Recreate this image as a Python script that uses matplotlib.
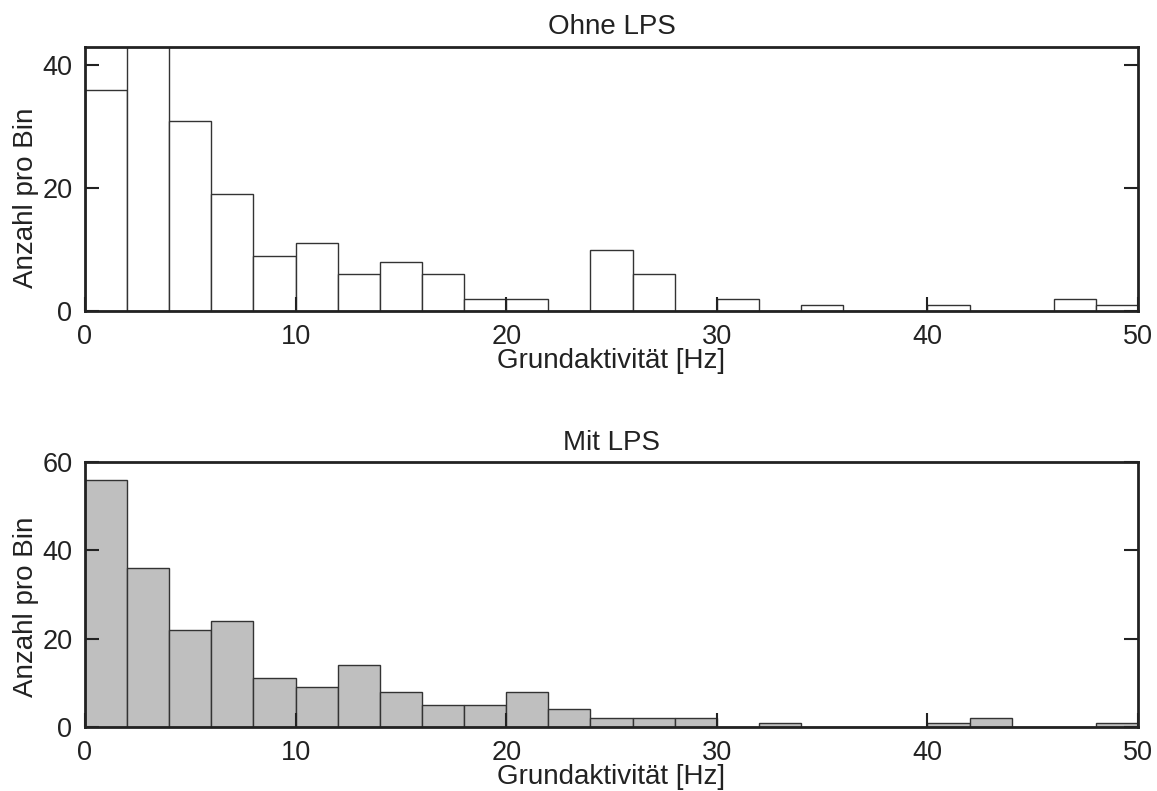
import numpy as np
import matplotlib
matplotlib.use('Agg')
import matplotlib.pyplot as plt

plt.rcParams['font.family'] = ['Liberation Sans', 'DejaVu Sans']

# Bin-Kanten (Hz) und Anzahl pro Bin
bin_edges = np.arange(0, 52, 2)
ohne_lps = [36, 47, 31, 19, 9, 11, 6, 8, 6, 2, 2, 0, 10, 6, 0, 2, 0, 1, 0, 0, 1, 0, 0, 2, 1]
mit_lps = [56, 36, 22, 24, 11, 9, 14, 8, 5, 5, 8, 4, 2, 2, 2, 0, 1, 0, 0, 0, 1, 2, 0, 0, 1]

titles = ['Ohne LPS', 'Mit LPS']
ylims = [43, 60]
yticks = [[0, 20, 40], [0, 20, 40, 60]]
colors = ['white', '#bfbfbf']
xticks = [0, 10, 20, 30, 40, 50]

fig = plt.figure(figsize=(11.57, 7.91), dpi=100)
ax1 = fig.add_axes([85 / 1157, 1 - 311 / 791, 1053 / 1157, 264 / 791])
ax2 = fig.add_axes([85 / 1157, 1 - 727 / 791, 1053 / 1157, 265 / 791])
ylab_y = [0.43, 0.455]

for ax, data, title, ylim, yt, col, yy in zip([ax1, ax2], [ohne_lps, mit_lps], titles,
                                              ylims, yticks, colors, ylab_y):
    ax.bar(bin_edges[:-1], data, width=2, align='edge', color=col,
           edgecolor='#333333', linewidth=1.0)
    ax.set_xlim(0, 50)
    ax.set_ylim(0, ylim)
    ax.set_xticks(xticks)
    ax.set_yticks(yt)
    ax.tick_params(direction='in', length=10, width=1.5, labelsize=19.5,
                   right=True, top=False, colors='#222222')
    ax.tick_params(axis='x', pad=9)
    ax.tick_params(axis='y', pad=9)
    for s in ax.spines.values():
        s.set_linewidth(2)
        s.set_color('#222222')
    ax.set_title(title, fontsize=20, pad=9, color='#222222')
    ax.set_xlabel('Grundaktivität [Hz]', fontsize=20, color='#222222')
    ax.xaxis.set_label_coords(0.5, -37 / 264)
    ax.set_ylabel('Anzahl pro Bin', fontsize=20, color='#222222')
    ax.yaxis.set_label_coords(-0.044, yy)

fig.savefig('out.png', dpi=100)
